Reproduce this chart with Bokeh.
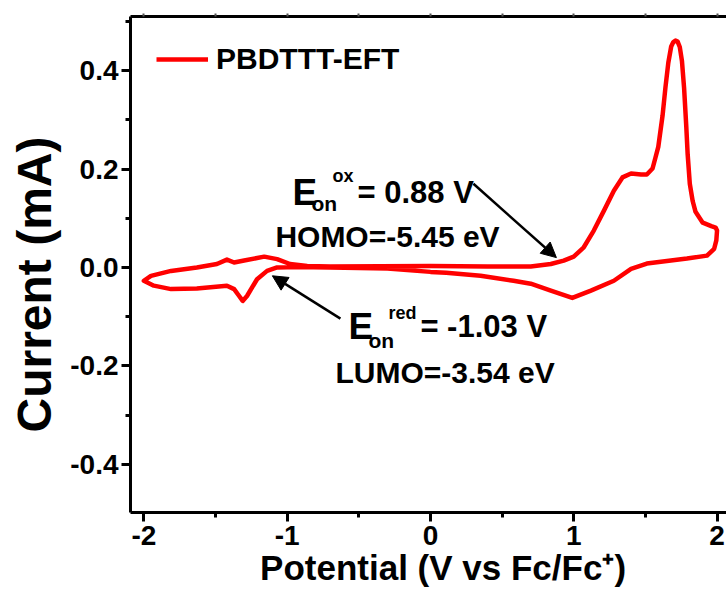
from bokeh.plotting import figure
from bokeh.models import (LinearAxis, FixedTicker, NumeralTickFormatter, Label, Arrow,
                          NormalHead, Legend, LegendItem, Range1d)
from bokeh.embed import file_html
from bokeh.resources import INLINE

# ---- data ----
potential = [
    0.00, -0.30, -0.70, -0.93, -1.07, -1.14, -1.21, -1.28, -1.31, -1.34, -1.37, -1.42, -1.63, -1.81, -1.93, -2.00,
    -1.95, -1.81, -1.63, -1.49, -1.42, -1.37, -1.30, -1.16, -1.07, -0.98, -0.86, -0.70, 0.00, 0.40, 0.70,
    0.84, 0.93, 1.00, 1.07, 1.14, 1.21, 1.28, 1.34, 1.40, 1.47, 1.51, 1.55, 1.57, 1.59, 1.62, 1.64, 1.66,
    1.68, 1.695, 1.71, 1.725, 1.74, 1.755, 1.77, 1.785, 1.795, 1.81, 1.83, 1.85, 1.90, 1.96, 1.99, 2.00,
    1.995, 1.98, 1.93, 1.79, 1.51, 1.40, 1.28, 1.12, 0.99, 0.84, 0.70, 0.58, 0.35, 0.11, 0.00,
]
current = [
    -0.009, -0.002, 0.000, 0.001, 0.000, -0.007, -0.024, -0.058, -0.068, -0.056, -0.044, -0.037, -0.043, -0.044, -0.037, -0.027,
    -0.017, -0.007, 0.000, 0.007, 0.016, 0.010, 0.014, 0.022, 0.017, 0.007, 0.003, 0.002, 0.003, 0.002, 0.002,
    0.007, 0.014, 0.022, 0.041, 0.075, 0.115, 0.156, 0.183, 0.191, 0.189, 0.189, 0.201, 0.223, 0.245, 0.309, 0.366, 0.416,
    0.449, 0.458, 0.461, 0.459, 0.448, 0.420, 0.365, 0.288, 0.230, 0.170, 0.135, 0.113, 0.091, 0.084, 0.081, 0.075,
    0.055, 0.038, 0.024, 0.018, 0.008, -0.003, -0.027, -0.047, -0.062, -0.047, -0.033, -0.027, -0.017, -0.011, -0.009,
]
series_name = "PBDTTT-EFT"

x_major = [-2, -1, 0, 1, 2]
x_minor = [-1.5, -0.5, 0.5, 1.5]
top_ticks = [-2, -1.5, -1, -0.5, 0, 0.5, 1, 1.5, 2]
y_major = [-0.4, -0.2, 0.0, 0.2, 0.4]
y_minor = [-0.5, -0.3, -0.1, 0.1, 0.3, 0.5]

FONT = "Liberation Sans"
NB = "\u00a0"

p = figure(width=726, height=605, output_backend="svg", toolbar_location=None,
           x_range=Range1d(-2.093, 2.066), y_range=Range1d(-0.498, 0.51),
           min_border_left=130, min_border_right=0, min_border_top=16, min_border_bottom=93)
p.outline_line_color = None
p.xgrid.visible = False
p.ygrid.visible = False
p.background_fill_color = "white"
p.border_fill_color = "white"


def style_axis(ax, ticks, minors, fmt, label, label_size, lab_standoff, title_standoff):
    ax.ticker = FixedTicker(ticks=ticks, minor_ticks=minors)
    ax.formatter = NumeralTickFormatter(format=fmt)
    ax.axis_line_width = 3
    ax.axis_line_color = "black"
    ax.major_tick_line_width = 3
    ax.minor_tick_line_width = 3
    ax.major_tick_out = 9
    ax.major_tick_in = 0
    ax.minor_tick_out = 5
    ax.minor_tick_in = 0
    ax.major_label_text_font = FONT
    ax.major_label_text_font_style = "bold"
    ax.major_label_text_font_size = "28px"
    ax.major_label_text_color = "black"
    ax.major_label_standoff = lab_standoff
    ax.axis_label = label
    ax.axis_label_text_font = FONT
    ax.axis_label_text_font_style = "bold"
    ax.axis_label_text_font_size = label_size
    ax.axis_label_text_color = "black"
    ax.axis_label_standoff = title_standoff


style_axis(p.xaxis[0], x_major, x_minor, "0", NB * 3 + "Potential (V vs Fc/Fc\u207a)", "35px", 4, 0)
style_axis(p.yaxis[0], y_major, y_minor, "0.0", "Current (mA)" + NB * 3, "48px", 3, 6)

top = LinearAxis(ticker=FixedTicker(ticks=top_ticks, minor_ticks=[]))
top.axis_line_width = 3
top.major_tick_out = 3
top.major_tick_in = 0
top.major_tick_line_width = 2
top.major_tick_line_color = "#555555"
top.minor_tick_line_color = None
top.major_label_text_font_size = "0px"
top.major_label_standoff = 0
p.add_layout(top, "above")

r = p.line(potential, current, line_color="#ff0000", line_width=4.5, line_join="round")

legend = Legend(items=[LegendItem(label=series_name, renderers=[r])], location="top_left")
legend.label_text_font = FONT
legend.label_text_font_style = "bold"
legend.label_text_font_size = "30px"
legend.label_text_color = "black"
legend.glyph_width = 52
legend.glyph_height = 32
legend.label_height = 32
legend.label_standoff = 8
legend.padding = 0
legend.margin = 26
legend.border_line_color = None
legend.background_fill_alpha = 0
p.add_layout(legend)

# annotation texts: (text, x, y, size)
ann_text = ["E", "on", "ox", "= 0.88 V", "HOMO=-5.45 eV",
            "E", "on", "red", "= -1.03 V", "LUMO=-3.54 eV"]
ann_x = [-0.963, -0.830, -0.684, -0.509, -1.082,
         -0.572, -0.433, -0.293, -0.070, -0.663]
ann_y = [0.152, 0.130, 0.186, 0.152, 0.062,
         -0.119, -0.149, -0.092, -0.119, -0.214]
ann_size = ["37px", "21px", "18px", "31px", "30px",
            "37px", "21px", "18px", "31px", "30px"]
for t, x, y, s in zip(ann_text, ann_x, ann_y, ann_size):
    p.add_layout(Label(x=x, y=y, text=t, text_font=FONT, text_font_style="bold",
                       text_font_size=s, text_color="black", text_baseline="alphabetic",
                       text_align="left"))

# arrows: start -> end
arrow_x0 = [0.300, -0.628]
arrow_y0 = [0.170, -0.104]
arrow_x1 = [0.879, -1.103]
arrow_y1 = [0.020, -0.017]
for x0, y0, x1, y1 in zip(arrow_x0, arrow_y0, arrow_x1, arrow_y1):
    p.add_layout(Arrow(end=NormalHead(size=15, fill_color="black", line_color="black"),
                       x_start=x0, y_start=y0, x_end=x1, y_end=y1,
                       line_width=2.5, line_color="black"))

open("out.html", "w").write(file_html(p, INLINE))
